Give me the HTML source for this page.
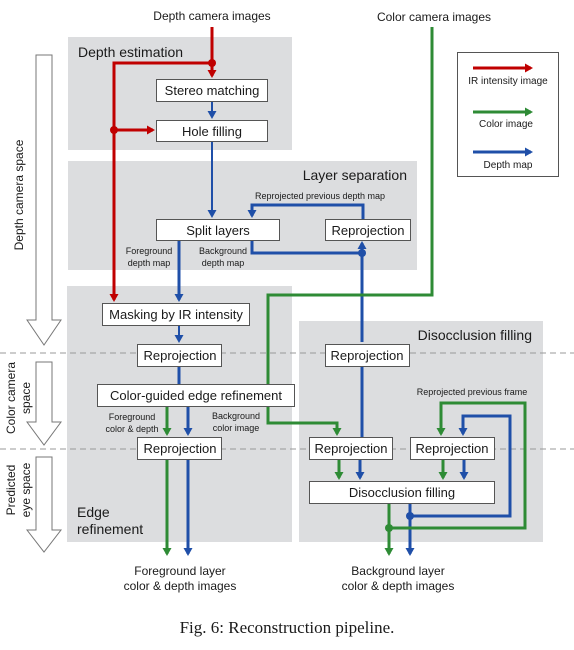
<!DOCTYPE html>
<html><head><meta charset="utf-8"><style>
html,body{margin:0;padding:0;background:#fff;}
svg text{font-family:"Liberation Sans","DejaVu Sans",sans-serif;fill:#1a1a1a;}
</style></head><body>
<svg width="574" height="645" viewBox="0 0 574 645" xmlns="http://www.w3.org/2000/svg">
<defs>
<marker id="ar" markerWidth="10" markerHeight="10" refX="6" refY="5" orient="auto" markerUnits="userSpaceOnUse"><path d="M0,0.5 L8,5 L0,9.5z" fill="#c00000"/></marker>
<marker id="ag" markerWidth="10" markerHeight="10" refX="6" refY="5" orient="auto" markerUnits="userSpaceOnUse"><path d="M0,0.5 L8,5 L0,9.5z" fill="#2e8b35"/></marker>
<marker id="ab" markerWidth="10" markerHeight="10" refX="6" refY="5" orient="auto" markerUnits="userSpaceOnUse"><path d="M0,0.5 L8,5 L0,9.5z" fill="#1f4fa8"/></marker>
</defs>
<rect x="68" y="37" width="224" height="113" fill="#dcdddf"/>
<rect x="68" y="161" width="349" height="109" fill="#dcdddf"/>
<rect x="67" y="286" width="225" height="256" fill="#dcdddf"/>
<rect x="299" y="321" width="244" height="221" fill="#dcdddf"/>
<line x1="0" y1="353" x2="574" y2="353" stroke="#999" stroke-dasharray="6,4"/>
<line x1="0" y1="449" x2="574" y2="449" stroke="#999" stroke-dasharray="6,4"/>
<g fill="#fff" stroke="#777" stroke-width="1">
<path d="M36,55 H52 V320 H61 L44,345 L27,320 H36 Z"/>
<path d="M36,362 H52 V422 H61 L44,445 L27,422 H36 Z"/>
<path d="M36,457 H52 V530 H61 L44,552 L27,530 H36 Z"/>
</g>
<text transform="translate(23,195) rotate(-90)" font-size="12" text-anchor="middle">Depth camera space</text>
<text transform="translate(15,398) rotate(-90)" font-size="12" text-anchor="middle">Color camera</text>
<text transform="translate(30,398) rotate(-90)" font-size="12" text-anchor="middle">space</text>
<text transform="translate(15,490) rotate(-90)" font-size="12" text-anchor="middle">Predicted</text>
<text transform="translate(30,490) rotate(-90)" font-size="12" text-anchor="middle">eye space</text>
<text x="78" y="57" font-size="14">Depth estimation</text>
<text x="407" y="180" font-size="14" text-anchor="end">Layer separation</text>
<text x="532" y="340" font-size="14" text-anchor="end">Disocclusion filling</text>
<text x="77" y="517" font-size="14">Edge</text>
<text x="77" y="534" font-size="14">refinement</text>
<text x="212" y="20" font-size="12" text-anchor="middle">Depth camera images</text>
<text x="434" y="21" font-size="12" text-anchor="middle">Color camera images</text>
<g fill="none" stroke-width="3">
<path d="M212,27 V76" stroke="#c00000" marker-end="url(#ar)"/>
<path d="M212,63 H114 V300" stroke="#c00000" marker-end="url(#ar)"/>
<path d="M114,130 H153" stroke="#c00000" marker-end="url(#ar)"/>
<path d="M212,101 V117" stroke="#1f4fa8" stroke-width="2" marker-end="url(#ab)"/>
<path d="M212,141 V216" stroke="#1f4fa8" stroke-width="2" marker-end="url(#ab)"/>
<path d="M179,240 V300" stroke="#1f4fa8" marker-end="url(#ab)"/>
<path d="M252,240 V253 H362" stroke="#1f4fa8"/>
<path d="M362,342 V243" stroke="#1f4fa8" marker-end="url(#ab)"/>
<path d="M363,219 V205 H252 V216" stroke="#1f4fa8" marker-end="url(#ab)"/>
<path d="M179,325 V341" stroke="#1f4fa8" stroke-width="2" marker-end="url(#ab)"/>
<path d="M179,366 V384" stroke="#1f4fa8"/>
<path d="M432,27 V295 H268 V384" stroke="#2e8b35"/>
<path d="M167,406 V434" stroke="#2e8b35" marker-end="url(#ag)"/>
<path d="M188,406 V434" stroke="#1f4fa8" marker-end="url(#ab)"/>
<path d="M268,406 V423 H337 V434" stroke="#2e8b35" marker-end="url(#ag)"/>
<path d="M167,459 V554" stroke="#2e8b35" marker-end="url(#ag)"/>
<path d="M188,459 V554" stroke="#1f4fa8" marker-end="url(#ab)"/>
<path d="M362,366 V437" stroke="#1f4fa8"/>
<path d="M339,459 V478" stroke="#2e8b35" marker-end="url(#ag)"/>
<path d="M360,459 V478" stroke="#1f4fa8" marker-end="url(#ab)"/>
<path d="M443,459 V478" stroke="#2e8b35" marker-end="url(#ag)"/>
<path d="M464,459 V478" stroke="#1f4fa8" marker-end="url(#ab)"/>
<path d="M389,503 V554" stroke="#2e8b35" marker-end="url(#ag)"/>
<path d="M410,503 V554" stroke="#1f4fa8" marker-end="url(#ab)"/>
<path d="M410,516 H510 V416 H463 V434" stroke="#1f4fa8" marker-end="url(#ab)"/>
<path d="M389,528 H525 V403 H441 V434" stroke="#2e8b35" marker-end="url(#ag)"/>
</g>
<circle cx="212" cy="63" r="4" fill="#c00000"/>
<circle cx="114" cy="130" r="4" fill="#c00000"/>
<circle cx="362" cy="253" r="4" fill="#1f4fa8"/>
<circle cx="410" cy="516" r="4" fill="#1f4fa8"/>
<circle cx="389" cy="528" r="4" fill="#2e8b35"/>
<g fill="#fff" stroke="#555" stroke-width="1">
<rect x="156.5" y="79.5" width="111" height="22"/>
<rect x="156.5" y="120.5" width="111" height="21"/>
<rect x="156.5" y="219.5" width="123" height="21"/>
<rect x="325.5" y="219.5" width="85" height="21"/>
<rect x="102.5" y="303.5" width="147" height="22"/>
<rect x="137.5" y="344.5" width="84" height="22"/>
<rect x="97.5" y="384.5" width="197" height="22"/>
<rect x="137.5" y="437.5" width="84" height="22"/>
<rect x="325.5" y="344.5" width="84" height="22"/>
<rect x="309.5" y="437.5" width="83" height="22"/>
<rect x="410.5" y="437.5" width="84" height="22"/>
<rect x="309.5" y="481.5" width="185" height="22"/>
</g>
<g font-size="13" text-anchor="middle">
<text x="212" y="95">Stereo matching</text>
<text x="212" y="136">Hole filling</text>
<text x="218" y="235">Split layers</text>
<text x="368" y="235">Reprojection</text>
<text x="176" y="319">Masking by IR intensity</text>
<text x="180" y="360">Reprojection</text>
<text x="196" y="400">Color-guided edge refinement</text>
<text x="180" y="453">Reprojection</text>
<text x="367" y="360">Reprojection</text>
<text x="351" y="453">Reprojection</text>
<text x="452" y="453">Reprojection</text>
<text x="402" y="497">Disocclusion filling</text>
</g>
<g font-size="9" text-anchor="middle">
<text x="320" y="199">Reprojected previous depth map</text>
<text x="149" y="254">Foreground</text><text x="149" y="266">depth map</text>
<text x="223" y="254">Background</text><text x="223" y="266">depth map</text>
<text x="132" y="420">Foreground</text><text x="132" y="432">color &amp; depth</text>
<text x="236" y="419">Background</text><text x="236" y="431">color image</text>
<text x="472" y="395">Reprojected previous frame</text>
</g>
<g font-size="12" text-anchor="middle">
<text x="180" y="575">Foreground layer</text><text x="180" y="590">color &amp; depth images</text>
<text x="398" y="575">Background layer</text><text x="398" y="590">color &amp; depth images</text>
</g>
<rect x="457.5" y="52.5" width="101" height="124" fill="#fff" stroke="#555"/>
<path d="M473,68 H531" stroke="#c00000" stroke-width="3" marker-end="url(#ar)"/>
<path d="M473,112 H531" stroke="#2e8b35" stroke-width="3" marker-end="url(#ag)"/>
<path d="M473,152 H531" stroke="#1f4fa8" stroke-width="3" marker-end="url(#ab)"/>
<g font-size="10" text-anchor="middle">
<text x="508" y="84">IR intensity image</text>
<text x="506" y="127">Color image</text>
<text x="508" y="168">Depth map</text>
</g>
<text x="287" y="633" font-size="17" text-anchor="middle" style="font-family:'Liberation Serif',serif">Fig. 6: Reconstruction pipeline.</text>
</svg>
</body></html>
